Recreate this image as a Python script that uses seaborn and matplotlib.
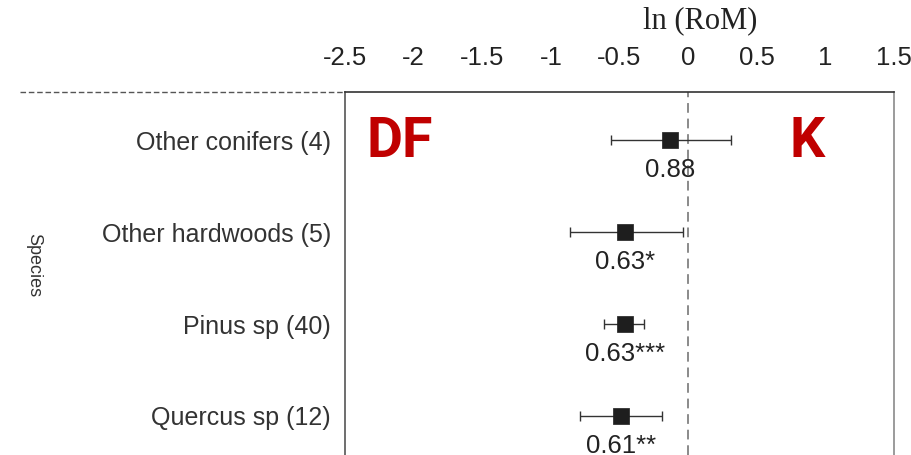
import matplotlib
matplotlib.use("Agg")
import matplotlib.pyplot as plt
import seaborn as sns
import pandas as pd
import numpy as np

# ---- data ----
species = ["Other conifers (4)", "Other hardwoods (5)", "Pinus sp (40)", "Quercus sp (12)"]
ln_rom = [-0.13, -0.46, -0.46, -0.49]
ci_low = [-0.56, -0.86, -0.61, -0.79]
ci_high = [0.31, -0.04, -0.32, -0.19]
rom_labels = ["0.88", "0.63*", "0.63***", "0.61**"]
xticks = [-2.5, -2, -1.5, -1, -0.5, 0, 0.5, 1, 1.5]
xtick_labels = ["-2.5", "-2", "-1.5", "-1", "-0.5", "0", "0.5", "1", "1.5"]

df = pd.DataFrame({"species": species, "ln_rom": ln_rom,
                   "low": ci_low, "high": ci_high,
                   "pos": np.arange(len(species))})

sns.set_theme(style="white")
plt.rcParams['font.family'] = ['Liberation Sans', 'DejaVu Sans']

fig = plt.figure(figsize=(9.12, 4.55), dpi=100)
ax = fig.add_axes([345/912, 0, 549/912, 1 - 92/455])

# zero line
ax.axvline(0, color="#8a8a8a", lw=1.4, ls=(0, (5, 3)), zorder=1)

# error bars
ax.errorbar(df["ln_rom"], df["pos"],
            xerr=[df["ln_rom"] - df["low"], df["high"] - df["ln_rom"]],
            fmt="none", ecolor="#333333", elinewidth=1.0, capsize=3.6,
            capthick=1.0, zorder=2)

# points
sns.scatterplot(data=df, x="ln_rom", y="pos", marker="s", s=130,
                color="#1e1e1e", edgecolor="#1e1e1e", linewidth=0.5,
                ax=ax, zorder=3, legend=False)

for x, y, lab in zip(df["ln_rom"], df["pos"], rom_labels):
    ax.text(x, y + 0.33, lab, ha="center", va="center", fontsize=18.5,
            color="#222222")

ax.text(-2.34, 0.02, "DF", fontsize=40, fontweight="bold", color="#c00000",
        family="Roboto", ha="left", va="center")
ax.text(0.735, 0.02, "K", fontsize=40, fontweight="bold", color="#c00000",
        family="Roboto", ha="left", va="center")

ax.set_xlim(-2.5, 1.5)
ax.set_ylim(3.424, -0.522)
ax.set_xticks(xticks)
ax.set_xticklabels(xtick_labels)
ax.xaxis.tick_top()
ax.set_xticks([0], minor=True)
ax.tick_params(axis="x", which="major", length=0, pad=16, labelsize=18.5,
               labelcolor="#222222")
ax.tick_params(axis="x", which="minor", top=True, bottom=False, length=6,
               direction="in", color="#555555", width=1)
ax.set_xlabel("")
fig.text(700/912, 1 - 21/455, "ln (RoM)", family="Liberation Serif",
         fontsize=22, color="#222222", ha="center", va="center")

ax.set_yticks(df["pos"])
ax.set_yticklabels(species)
ax.tick_params(axis="y", length=0, pad=10, labelsize=18, labelcolor="#333333")
ax.set_ylabel("Species", rotation=270, fontsize=13, color="#333333",
              va="center")
ax.yaxis.set_label_coords(-0.567, 0.523)

ax.spines["bottom"].set_visible(False)
ax.spines["top"].set_color("#333333")
ax.spines["left"].set_color("#555555")
ax.spines["right"].set_color("#8a8a8a")
for s in ["top", "left", "right"]:
    ax.spines[s].set_linewidth(1.2)

# dashed separator to the left of the panel
ax.plot([-0.592, 0], [1, 1], transform=ax.transAxes, clip_on=False,
        color="#555555", lw=1.0, ls=(0, (4, 2)))

fig.savefig("out.png", dpi=100)
